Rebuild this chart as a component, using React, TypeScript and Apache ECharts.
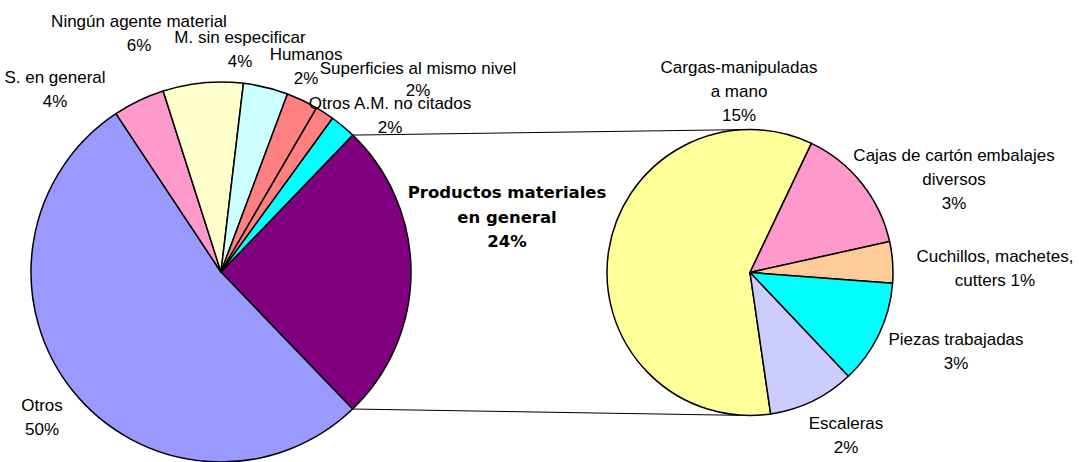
import React, { useEffect, useRef } from "react";
import * as echarts from "echarts";

// ---- data ----
const rightNames = [
  "Cargas-manipuladas\na mano",
  "Cajas de cartón embalajes\ndiversos",
  "Cuchillos, machetes,\ncutters",
  "Piezas trabajadas",
  "Escaleras",
];
const rightValues = [15.2, 3.7, 1.2, 3.0, 2.5];
const rightPct = [15, 3, 1, 3, 2];
const rightSep = ["\n", "\n", " ", "\n", "\n"];
const rightColors = ["#FFFF99", "#FF99CC", "#FFCC99", "#00FFFF", "#CCCCFF"];

const leftNames = [
  "Productos materiales\nen general",
  "Otros",
  "S. en general",
  "Ningún agente material",
  "M. sin especificar",
  "Humanos",
  "Superficies al mismo nivel",
  "Otros A.M. no citados",
];
// first value (Productos materiales) is the sum of the secondary pie
const leftOtherValues = [52.8, 4.4, 6.8, 3.8, 2.7, 1.6, 2.2];
const leftPct = [24, 50, 4, 6, 4, 2, 2, 2];
const leftColors = ["#800080", "#9999FF", "#FF99CC", "#FFFFCC", "#CCFFFF", "#FF8080", "#FF8080", "#00FFFF"];

// ---- layout ----
const LEFT = { cx: 221, cy: 272, r: 190, start: 46.1 };
const RIGHT = { cx: 750, cy: 272.5, r: 143, start: 278.3 };
const leftLabelPos = [
  [507, 217],
  [42, 417],
  [55, 89],
  [139, 33],
  [240, 49],
  [306, 66],
  [418, 79],
  [390, 115],
];
const rightLabelPos = [
  [739, 91],
  [954, 179],
  [995, 268],
  [956, 351],
  [846, 435],
];

export default function App() {
  const ref = useRef<HTMLDivElement>(null);
  useEffect(() => {
    if (!ref.current) return;
    const chart = echarts.init(ref.current, null, { renderer: "svg" });
    const prodValue = rightValues.reduce((a, b) => a + b, 0);
    const leftValues = [prodValue, ...leftOtherValues];
    const leftTotal = leftValues.reduce((a, b) => a + b, 0);
    const a1 = (LEFT.start * Math.PI) / 180;
    const a2 = ((LEFT.start - (360 * prodValue) / leftTotal) * Math.PI) / 180;
    const p1 = [LEFT.cx + LEFT.r * Math.cos(a1), LEFT.cy - LEFT.r * Math.sin(a1)];
    const p2 = [LEFT.cx + LEFT.r * Math.cos(a2), LEFT.cy - LEFT.r * Math.sin(a2)];
    const q1 = [RIGHT.cx, RIGHT.cy - RIGHT.r];
    const q2 = [RIGHT.cx, RIGHT.cy + RIGHT.r];

    const baseLabel = {
      show: true,
      color: "#000",
      fontFamily: "Liberation Sans, Arial, sans-serif",
      fontSize: 17,
      lineHeight: 24,
      align: "center",
    };

    chart.setOption({
      animation: false,
      backgroundColor: "#fff",
      graphic: [
        { type: "line", z: 0, shape: { x1: p1[0], y1: p1[1], x2: q1[0], y2: q1[1] }, style: { stroke: "#000", lineWidth: 1 } },
        { type: "line", z: 0, shape: { x1: p2[0], y1: p2[1], x2: q2[0], y2: q2[1] }, style: { stroke: "#000", lineWidth: 1 } },
      ],
      series: [
        {
          type: "pie",
          center: [LEFT.cx, LEFT.cy],
          radius: [0, LEFT.r],
          startAngle: LEFT.start,
          clockwise: true,
          avoidLabelOverlap: false,
          emphasis: { disabled: true },
          labelLine: { show: false },
          itemStyle: { borderColor: "#000", borderWidth: 1.5 },
          label: {
            ...baseLabel,
            formatter: (p: any) => `${leftNames[p.dataIndex]}\n${leftPct[p.dataIndex]}%`,
          },
          labelLayout: (p: any) => ({
            x: leftLabelPos[p.dataIndex][0],
            y: leftLabelPos[p.dataIndex][1],
            align: "center",
            verticalAlign: "middle",
          }),
          data: leftValues.map((v, i) => ({
            value: v,
            name: leftNames[i],
            itemStyle: { color: leftColors[i] },
            label:
              i === 0
                ? { fontWeight: "bold", fontFamily: "DejaVu Sans, sans-serif", fontSize: 16.5, lineHeight: 24.5 }
                : i === 6
                ? { lineHeight: 22 }
                : undefined,
          })),
        },
        {
          type: "pie",
          center: [RIGHT.cx, RIGHT.cy],
          radius: [0, RIGHT.r],
          startAngle: RIGHT.start,
          clockwise: true,
          avoidLabelOverlap: false,
          emphasis: { disabled: true },
          labelLine: { show: false },
          itemStyle: { borderColor: "#000", borderWidth: 1.5 },
          label: {
            ...baseLabel,
            formatter: (p: any) => `${rightNames[p.dataIndex]}${rightSep[p.dataIndex]}${rightPct[p.dataIndex]}%`,
          },
          labelLayout: (p: any) => ({
            x: rightLabelPos[p.dataIndex][0],
            y: rightLabelPos[p.dataIndex][1],
            align: "center",
            verticalAlign: "middle",
          }),
          data: rightValues.map((v, i) => ({
            value: v,
            name: rightNames[i],
            itemStyle: { color: rightColors[i] },
          })),
        },
      ],
    });
    return () => chart.dispose();
  }, []);
  return (
    <div
      ref={ref}
      style={{ position: "fixed", left: 0, top: 0, width: 1089, height: 462 }}
    />
  );
}
